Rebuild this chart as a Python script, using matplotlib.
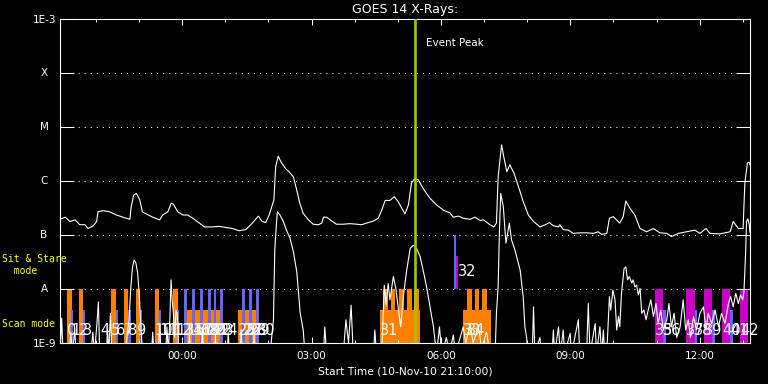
import matplotlib.pyplot as plt
import numpy as np
from matplotlib.ticker import NullLocator

plt.rcParams["font.family"] = ["DejaVu Sans"]

# time axis: hours after start (10-Nov-10 21:10)
x_ticks = [2.833, 5.833, 8.833, 11.833, 14.833]
x_ticklabels = ["00:00", "03:00", "06:00", "09:00", "12:00"]
x_minor = [0.833, 1.833, 3.833, 4.833, 6.833, 7.833, 9.833, 10.833, 12.833, 13.833, 15.833]

y_levels = [1e-9, 1e-8, 1e-7, 1e-6, 1e-5, 1e-4, 1e-3]
y_names = ["1E-9", "A", "B", "C", "M", "X", "1E-3"]

peak_time = 8.23

# GOES 1-8 A channel, (hour, log10 flux)
long_pts = [
    (0.00, -6.71), (0.12, -6.67), (0.23, -6.75), (0.35, -6.72), (0.46, -6.81), (0.58, -6.81),
    (0.65, -6.88), (0.77, -6.83), (0.85, -6.75), (0.88, -6.57), (1.00, -6.55), (1.15, -6.57),
    (1.31, -6.63), (1.46, -6.67), (1.62, -6.71), (1.65, -6.48), (1.71, -6.26), (1.77, -6.23),
    (1.85, -6.35), (1.91, -6.57), (2.00, -6.61), (2.15, -6.67), (2.31, -6.72), (2.38, -6.63),
    (2.50, -6.57), (2.58, -6.41), (2.63, -6.43), (2.73, -6.57), (2.85, -6.63), (2.96, -6.63),
    (3.08, -6.69), (3.23, -6.78), (3.35, -6.85), (3.54, -6.85), (3.69, -6.84), (3.85, -6.86),
    (4.00, -6.88), (4.15, -6.92), (4.31, -6.90), (4.46, -6.78), (4.60, -6.65), (4.69, -6.75),
    (4.77, -6.77), (4.85, -6.63), (4.96, -6.35), (5.00, -5.74), (5.06, -5.54), (5.12, -5.64),
    (5.23, -5.77), (5.31, -5.83), (5.41, -5.92), (5.49, -6.17), (5.56, -6.41), (5.64, -6.60),
    (5.76, -6.72), (5.87, -6.80), (5.99, -6.81), (6.07, -6.78), (6.11, -6.67), (6.18, -6.67),
    (6.30, -6.74), (6.41, -6.80), (6.57, -6.80), (6.72, -6.79), (6.88, -6.80), (6.99, -6.81),
    (7.15, -6.77), (7.27, -6.74), (7.38, -6.69), (7.46, -6.54), (7.54, -6.36), (7.65, -6.36),
    (7.75, -6.29), (7.84, -6.38), (8.00, -6.61), (8.08, -6.44), (8.15, -6.04), (8.23, -5.95),
    (8.31, -5.98), (8.42, -6.14), (8.58, -6.32), (8.73, -6.44), (8.89, -6.54), (9.04, -6.59),
    (9.12, -6.67), (9.24, -6.65), (9.35, -6.69), (9.51, -6.71), (9.62, -6.67), (9.74, -6.73),
    (9.82, -6.72), (9.97, -6.81), (10.06, -6.85), (10.12, -6.78), (10.16, -5.92), (10.24, -5.33),
    (10.29, -5.55), (10.36, -5.83), (10.43, -5.70), (10.53, -5.86), (10.67, -6.20), (10.74, -6.38),
    (10.86, -6.63), (10.98, -6.75), (11.13, -6.85), (11.25, -6.81), (11.35, -6.77), (11.44, -6.83),
    (11.56, -6.85), (11.59, -6.81), (11.67, -6.90), (11.79, -6.91), (11.90, -6.97), (12.06, -6.96),
    (12.21, -6.96), (12.37, -6.97), (12.48, -6.94), (12.56, -6.99), (12.68, -6.97), (12.74, -6.69),
    (12.83, -6.66), (12.98, -6.78), (13.06, -6.66), (13.12, -6.37), (13.22, -6.51), (13.33, -6.63),
    (13.45, -6.88), (13.60, -6.94), (13.76, -6.88), (13.91, -6.96), (14.07, -6.97), (14.18, -7.03),
    (14.34, -6.97), (14.53, -6.94), (14.72, -6.91), (14.84, -6.97), (14.98, -6.88), (15.07, -6.97),
    (15.30, -6.98), (15.54, -6.94), (15.61, -6.75), (15.73, -6.88), (15.84, -6.88), (15.88, -6.04),
    (15.94, -5.67), (15.98, -5.65), (16.00, -5.70),
]

# GOES 0.5-4 A channel, (hour, log10 flux); values below -9 are off the plot
short_pts = [
    (0.00, -9.2), (0.04, -8.54), (0.07, -9.2), (0.22, -9.2), (0.25, -8.80), (0.29, -9.2),
    (0.34, -8.76), (0.38, -9.2), (0.72, -9.2), (0.76, -8.80), (0.80, -9.2), (0.86, -8.60),
    (0.89, -8.24), (0.92, -9.2), (1.08, -9.2), (1.10, -8.70), (1.13, -9.2), (1.17, -8.45),
    (1.20, -9.2), (1.52, -9.2), (1.56, -8.80), (1.60, -8.60), (1.64, -8.00), (1.68, -7.60),
    (1.72, -7.46), (1.76, -7.52), (1.80, -7.70), (1.84, -8.14), (1.88, -8.76), (1.92, -9.2),
    (2.12, -9.2), (2.15, -8.80), (2.18, -9.2), (2.28, -9.2), (2.31, -8.64), (2.34, -9.2),
    (2.45, -9.2), (2.48, -8.70), (2.51, -9.2), (2.55, -8.50), (2.575, -7.83), (2.60, -8.20),
    (2.63, -8.45), (2.66, -8.90), (2.69, -8.39), (2.72, -8.45), (2.75, -9.2), (2.98, -9.2),
    (3.00, -8.80), (3.03, -9.2), (3.28, -9.2), (3.30, -8.70), (3.33, -9.2), (3.58, -9.2),
    (3.60, -8.85), (3.63, -9.2), (3.88, -9.2), (3.90, -8.80), (3.93, -9.2), (4.18, -9.2),
    (4.20, -8.75), (4.23, -9.2), (4.48, -9.2), (4.50, -8.85), (4.53, -9.2), (4.87, -9.2),
    (4.95, -8.57), (4.98, -7.28), (5.02, -6.78), (5.04, -6.57), (5.10, -6.63), (5.18, -6.75),
    (5.25, -6.91), (5.33, -7.05), (5.41, -7.30), (5.49, -7.68), (5.57, -8.45), (5.64, -8.76),
    (5.68, -9.2), (6.11, -9.2), (6.14, -8.70), (6.18, -9.2), (6.57, -9.2), (6.63, -8.57),
    (6.69, -9.00), (6.75, -8.30), (6.80, -9.2), (7.27, -9.2), (7.30, -8.76), (7.34, -9.2),
    (7.46, -9.2), (7.52, -7.93), (7.56, -8.30), (7.61, -7.90), (7.65, -8.20), (7.73, -7.77),
    (7.79, -8.00), (7.85, -8.40), (7.90, -8.70), (7.96, -8.14), (8.04, -7.65), (8.12, -7.25),
    (8.19, -7.19), (8.27, -7.25), (8.35, -7.40), (8.42, -7.65), (8.50, -7.96), (8.58, -8.33),
    (8.66, -8.70), (8.73, -9.2), (8.80, -8.70), (8.85, -9.2), (8.96, -8.90), (9.03, -9.2),
    (9.12, -8.85), (9.17, -9.2), (9.35, -8.70), (9.41, -9.00), (9.51, -8.65), (9.58, -9.00),
    (9.70, -8.70), (9.78, -9.10), (9.89, -8.80), (9.97, -9.2), (10.09, -9.2), (10.12, -8.45),
    (10.16, -7.95), (10.19, -6.91), (10.22, -6.23), (10.28, -6.48), (10.34, -7.15), (10.42, -6.78),
    (10.47, -7.09), (10.55, -7.28), (10.67, -7.65), (10.74, -8.14), (10.78, -8.70), (10.82, -8.90),
    (10.86, -9.2), (10.95, -9.2), (10.98, -8.33), (11.01, -9.2), (11.13, -8.90), (11.16, -9.2),
    (11.41, -9.2), (11.44, -8.76), (11.47, -9.2), (11.56, -8.70), (11.60, -9.2), (11.67, -8.76),
    (11.70, -9.2), (11.83, -8.82), (11.86, -9.2), (12.02, -8.57), (12.05, -9.2), (12.21, -9.2),
    (12.25, -8.27), (12.29, -9.2), (12.41, -8.64), (12.44, -9.2), (12.52, -8.70), (12.56, -9.2),
    (12.60, -8.76), (12.63, -9.2), (12.69, -9.00), (12.74, -8.14), (12.77, -8.39), (12.82, -8.02),
    (12.87, -8.20), (12.91, -8.76), (12.95, -8.51), (12.98, -8.70), (13.02, -8.08), (13.08, -7.62),
    (13.12, -7.59), (13.16, -7.83), (13.20, -7.77), (13.26, -7.89), (13.29, -7.83), (13.33, -7.96),
    (13.37, -7.93), (13.41, -8.11), (13.45, -7.99), (13.49, -8.45), (13.54, -8.39), (13.59, -8.57),
    (13.64, -8.39), (13.70, -8.20), (13.76, -8.51), (13.82, -8.27), (13.87, -8.64), (13.93, -8.39),
    (13.99, -8.76), (14.07, -8.57), (14.12, -8.27), (14.18, -8.70), (14.24, -8.45), (14.30, -8.90),
    (14.38, -8.70), (14.45, -8.20), (14.51, -8.76), (14.57, -8.57), (14.62, -8.90), (14.69, -8.51),
    (14.76, -8.76), (14.84, -8.45), (14.92, -8.33), (14.98, -8.76), (15.03, -8.45), (15.11, -8.64),
    (15.19, -8.39), (15.27, -8.70), (15.34, -8.45), (15.42, -8.64), (15.50, -8.27), (15.55, -8.14),
    (15.61, -8.33), (15.67, -8.08), (15.73, -8.27), (15.78, -8.11), (15.83, -8.20), (15.86, -8.05),
    (15.90, -7.30), (15.92, -6.75), (15.95, -6.70), (15.98, -6.80), (16.00, -6.95),
]

# observation bars, (start hour, end hour)
orange_tall = [(0.17, 0.28), (0.44, 0.54), (1.18, 1.29), (1.48, 1.57), (1.76, 1.86),
               (2.20, 2.30), (2.63, 2.73),
               (7.50, 7.61), (7.67, 7.77), (7.86, 7.98), (8.05, 8.16), (8.21, 8.33),
               (9.43, 9.55), (9.62, 9.72), (9.79, 9.89)]
orange_short = [(2.94, 3.79), (4.13, 4.55), (7.42, 8.35), (9.35, 9.99)]
blue_tall = [(2.88, 2.94), (3.06, 3.12), (3.25, 3.31), (3.43, 3.49), (3.56, 3.62),
             (3.71, 3.77), (4.23, 4.29), (4.38, 4.45), (4.54, 4.61)]
blue_short = [(0.26, 0.31), (0.53, 0.59), (1.30, 1.35), (1.58, 1.64), (1.86, 1.91),
              (2.30, 2.35), (2.71, 2.76),
              (13.99, 14.05), (14.70, 14.78), (15.13, 15.19), (15.54, 15.61)]
magenta_tall = [(13.80, 13.98), (14.52, 14.72), (14.93, 15.13), (15.35, 15.54), (15.77, 15.96)]
stare_blue = (9.14, 9.185)
stare_magenta = (9.185, 9.225)

scan_label_text = [str(i) for i in list(range(0, 32)) + list(range(33, 43))]
scan_label_times = [0.17, 0.26, 0.44, 0.53, 0.93, 1.18, 1.30, 1.48, 1.58, 1.76,
                    2.20, 2.30, 2.63, 2.71, 2.88, 2.94, 3.06, 3.12, 3.25, 3.31,
                    3.43, 3.49, 3.56, 3.62, 3.71, 4.13, 4.23, 4.29, 4.38, 4.45,
                    4.56, 7.42, 9.35, 9.43, 13.80, 13.99, 14.52, 14.70, 14.93, 15.35,
                    15.54, 15.77]

ORANGE = "#ff8000"
BLUE = "#6464ff"
MAGENTA = "#c800c8"
GREEN = "#99cc00"
TALL = 1e-8
SHORT = 10 ** -8.39

fig = plt.figure(figsize=(7.68, 3.84), dpi=100, facecolor="black")
ax = fig.add_axes([60 / 768, 41 / 384, 690 / 768, 324 / 384])
ax.set_facecolor("black")
ax.set_yscale("log")
ax.set_xlim(0, 16)
ax.set_ylim(1e-9, 1e-3)


def draw_bars(spans, bottom, top, color):
    for s, e in spans:
        ax.bar(s, top - bottom, bottom=bottom, width=e - s, align="edge",
               color=color, linewidth=0, zorder=1)


draw_bars(orange_short, 1e-9, SHORT, ORANGE)
draw_bars(orange_tall, 1e-9, TALL, ORANGE)
draw_bars(blue_short, 1e-9, SHORT, BLUE)
draw_bars(blue_tall, 1e-9, TALL, BLUE)
draw_bars(magenta_tall, 1e-9, TALL, MAGENTA)
draw_bars([stare_blue], 1e-8, 1e-7, BLUE)
draw_bars([stare_magenta], 1e-8, 10 ** -7.39, MAGENTA)

for lvl in y_levels[1:-1]:
    ax.axhline(lvl, color="white", lw=0.75, linestyle=(0, (1, 4.8)), zorder=0.5)

lt, lv = np.array(long_pts).T
st, sv = np.array(short_pts).T
ax.plot(lt, 10 ** lv, color="white", lw=0.8, zorder=3)
ax.plot(st, 10 ** sv, color="white", lw=0.8, zorder=3)

ax.axvline(peak_time, color=GREEN, lw=1.9, zorder=4)
ax.text(peak_time + 0.26, 10 ** -3.444, "Event Peak", color="white", fontsize=7.5,
        va="center", ha="left")

for txt, t in zip(scan_label_text, scan_label_times):
    ax.text(t, 10 ** -8.91, txt, color="white", fontsize=10.5, va="bottom", ha="left",
            zorder=5, clip_on=False)
ax.text(9.23, 10 ** -7.685, "32", color="white", fontsize=10.5, va="center", ha="left", zorder=5)

# axes styling
for sp in ax.spines.values():
    sp.set_color("white")
    sp.set_linewidth(0.8)
ax.set_xticks(x_ticks)
ax.set_xticklabels(x_ticklabels)
ax.set_xticks(x_minor, minor=True)
ax.tick_params(axis="x", which="major", direction="in", top=True, bottom=True,
               length=4.3, width=0.75, color="white", labelcolor="white",
               labelsize=7.5, pad=6)
ax.tick_params(axis="x", which="minor", direction="in", top=True, bottom=True,
               length=2.2, width=0.75, color="white")
ax.set_yticks(y_levels)
ax.set_yticklabels(["1E-9", "", "", "", "", "", "1E-3"])
ax.yaxis.set_minor_locator(NullLocator())
ax.tick_params(axis="y", which="major", direction="in", left=True, right=True,
               length=10, width=0.75, color="white", labelcolor="white",
               labelsize=7.5, pad=3)
for lvl, name in zip(y_levels[1:-1], y_names[1:-1]):
    ax.text(-0.0232, lvl, name, transform=ax.get_yaxis_transform(), color="white",
            fontsize=7.5, ha="center", va="center")

ax.set_title("GOES 14 X-Rays:", color="white", fontsize=9, pad=4)
ax.set_xlabel("Start Time (10-Nov-10 21:10:00)", color="white", fontsize=7.7, labelpad=4)

mono = dict(family="DejaVu Sans Mono", color="yellow", fontsize=7, ha="left", va="center")
fig.text(2 / 768, 1 - 259 / 384, "Sit & Stare", **mono)
fig.text(2 / 768, 1 - 271 / 384, "  mode", **mono)
fig.text(2 / 768, 1 - 324 / 384, "Scan mode", **mono)

fig.savefig("out.png", dpi=100, facecolor="black")
